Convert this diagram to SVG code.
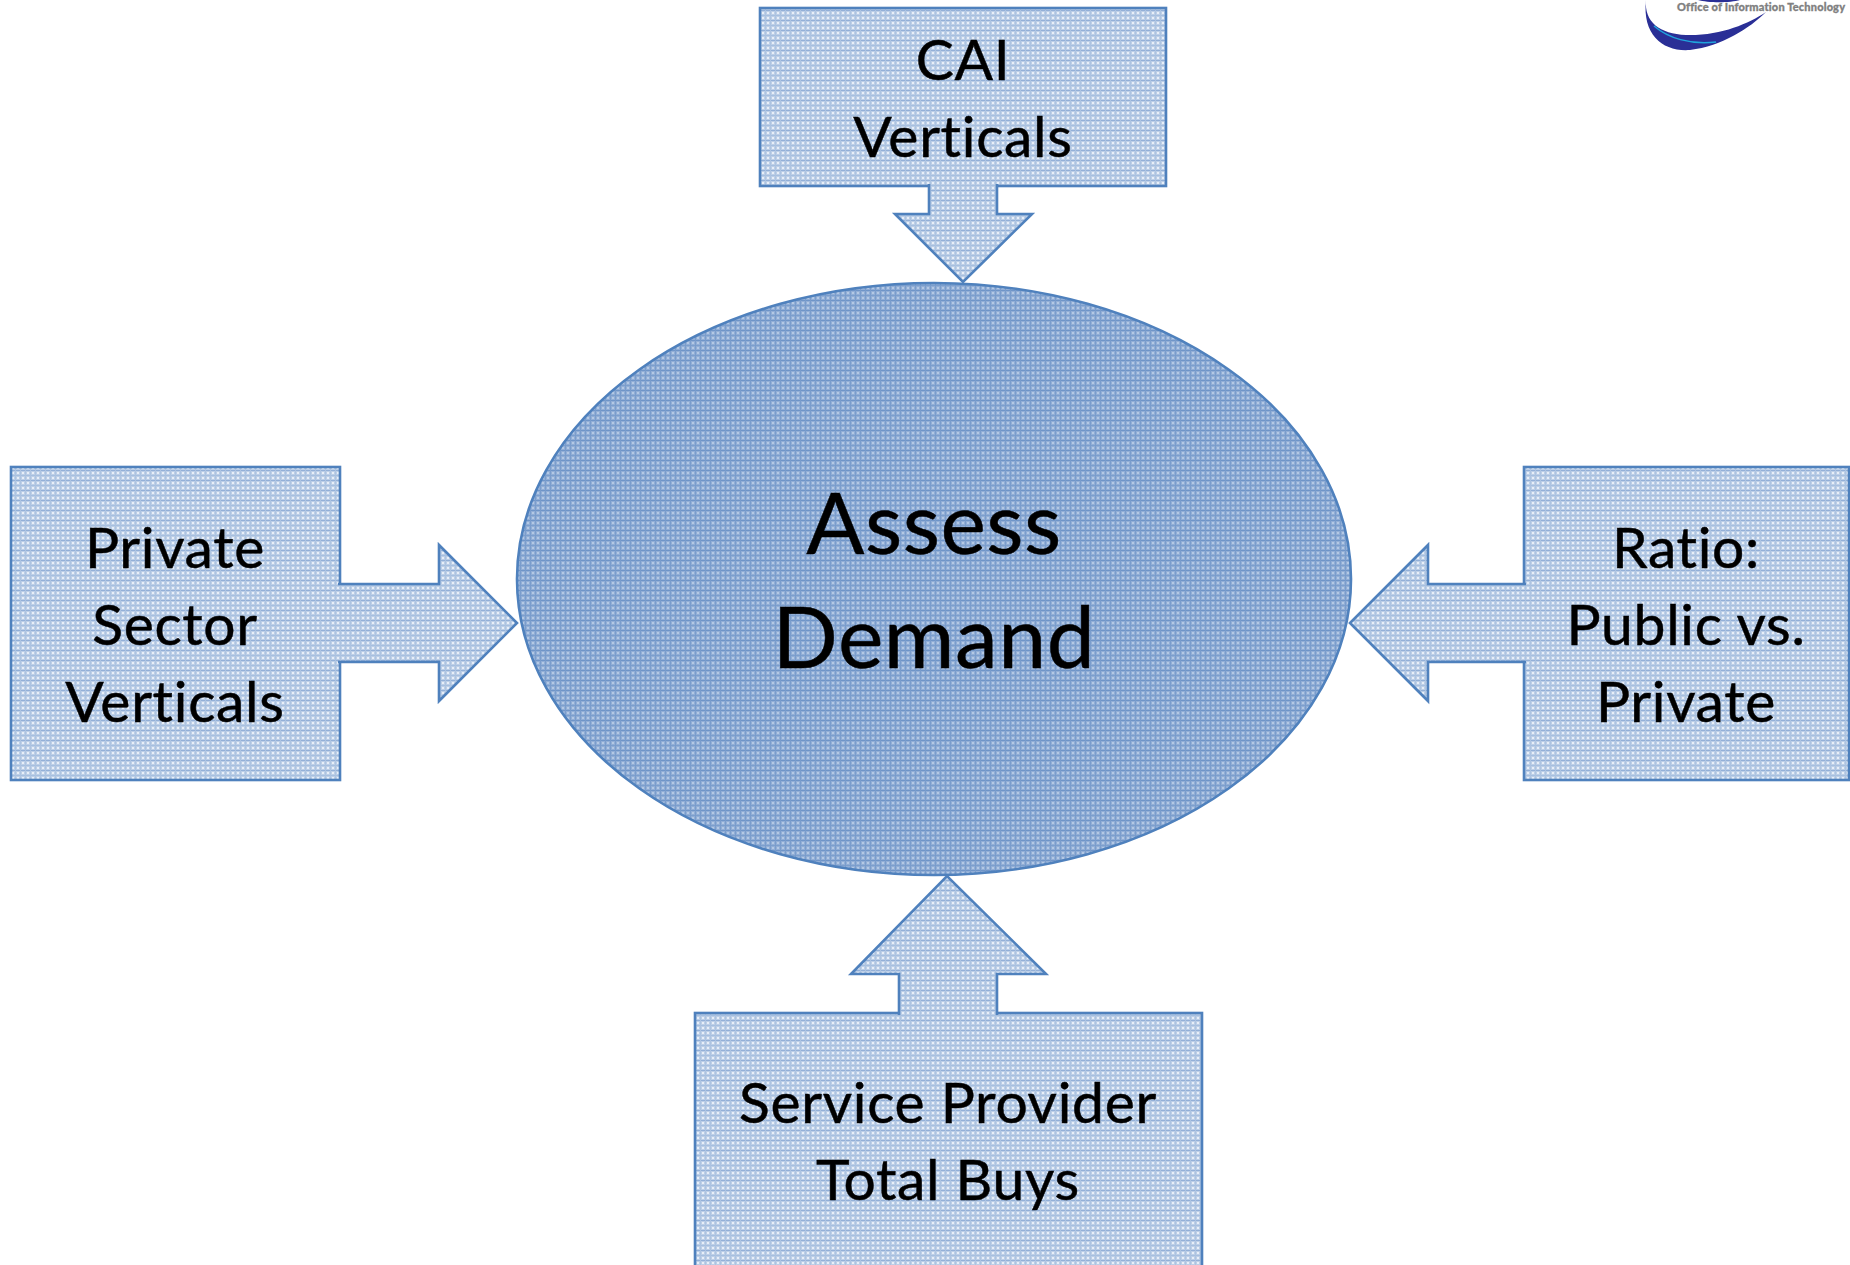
<svg xmlns="http://www.w3.org/2000/svg" width="1850" height="1265" viewBox="0 0 1850 1265">
<style>
.s{stroke:#4f81bd;stroke-width:2.6;fill:url(#lt);stroke-linejoin:miter}
.e{stroke:#4f81bd;stroke-width:2.6;fill:url(#dk)}
text{font-family:"Lato","Carlito","Open Sans",sans-serif;fill:#000;stroke:#000;stroke-width:.5;text-anchor:middle;font-variant-ligatures:none}
.t{font-size:57px;letter-spacing:.7px}
.b{font-size:86px;letter-spacing:.5px}
</style>
<defs>
<pattern id="lt" width="5" height="10" patternUnits="userSpaceOnUse">
<rect width="5" height="10" fill="#bdcfe7"/>
<rect x="0" y="0" width="5" height="1" fill="#93b0d8"/>
<rect x="0" y="5" width="5" height="1" fill="#a6bfdf"/>
<rect x="0" y="0" width="1" height="10" fill="#adc4e1"/>
<rect x="2" y="2" width="2" height="2" fill="#e8eff8"/>
<rect x="2" y="7" width="2" height="2" fill="#e8eff8"/>
</pattern>
<pattern id="dk" width="5" height="10" patternUnits="userSpaceOnUse">
<rect width="5" height="10" fill="#92aed6"/>
<rect x="0" y="0" width="5" height="1" fill="#6f95c8"/>
<rect x="0" y="5" width="5" height="1" fill="#7c9fcd"/>
<rect x="0" y="0" width="1" height="10" fill="#7a9dcc"/>
<rect x="2" y="2" width="2" height="2" fill="#b4c9e4"/>
<rect x="2" y="7" width="2" height="2" fill="#b4c9e4"/>
</pattern>
</defs>
<rect width="1850" height="1265" fill="#fff"/>
<g id="node-center">
<ellipse class="e" cx="934" cy="579" rx="417" ry="296"/>
<text class="b"><tspan x="934" y="554">Assess</tspan><tspan x="934" y="668">Demand</tspan></text>
</g>
<g id="node-top">
<rect class="s" x="760" y="8" width="406" height="178"/>
<text class="t"><tspan x="963" y="80">CAI</tspan><tspan x="963" y="157">Verticals</tspan></text>
</g>
<g id="node-left">
<rect class="s" x="11" y="467" width="329" height="313"/>
<text class="t"><tspan x="175" y="568">Private</tspan><tspan x="175" y="645">Sector</tspan><tspan x="175" y="722">Verticals</tspan></text>
</g>
<g id="node-right">
<rect class="s" x="1524" y="467" width="325" height="313"/>
<text class="t"><tspan x="1686" y="568">Ratio:</tspan><tspan x="1686" y="645">Public vs.</tspan><tspan x="1686" y="722">Private</tspan></text>
</g>
<g id="node-bottom">
<rect class="s" x="695" y="1013" width="507" height="260"/>
<text class="t"><tspan x="948" y="1123">Service Provider</tspan><tspan x="948" y="1200">Total Buys</tspan></text>
</g>
<g id="connectors">
<path class="s" d="M929,184 V214 H895 L963,282 L1032,214 H997 V184"/>
<path class="s" d="M338,584 H439 V545 L517,623 L439,701 V662 H338"/>
<path class="s" d="M1526,584 H1428 V545 L1350,623 L1428,701 V662 H1526"/>
<path class="s" d="M899,1015 V974 H851 L947,876 L1046,974 H997 V1015"/>
</g>
<g id="logo">
<path d="M1646,0 C1644,22 1660,34 1686,35 C1720,36 1748,24 1766,12 C1750,28 1722,46 1690,50 C1664,52 1642,36 1646,0 Z" fill="#2a2f96"/>
<path d="M1654,26 C1668,38 1690,45 1716,42" fill="none" stroke="#1fa4dc" stroke-width="1.5"/>
<path d="M1698,0 H1740 C1730,3 1708,3 1698,0 Z" fill="#2a2f96"/>
<text x="1761" y="11" style="font-size:11px;font-weight:900;fill:#808080;stroke:#808080;stroke-width:.3;letter-spacing:0" textLength="168">Office of Information Technology</text>
</g>
</svg>
